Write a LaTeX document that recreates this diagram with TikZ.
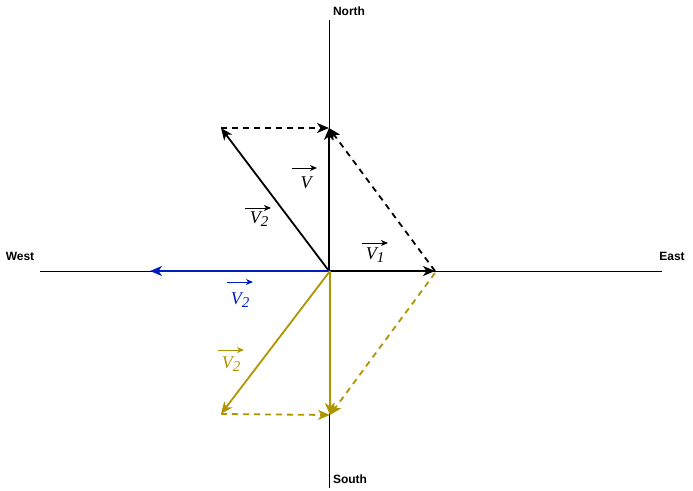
\documentclass[tikz,border=0pt]{standalone}
\usepackage{fontspec}
\setmainfont{Liberation Serif}
\setsansfont{Liberation Sans}
\usetikzlibrary{arrows.meta}
\definecolor{gold}{HTML}{B09500}
\definecolor{vblue}{HTML}{001DBC}
\tikzset{
  axis/.style={draw=black, line width=0.9pt},
  vec/.style={line width=1.8pt, -{Stealth[length=12pt,width=10pt,inset=3.5pt]}},
  dvec/.style={vec, dash pattern=on 6pt off 5pt},
  dir/.style={font=\sffamily\bfseries\fontsize{12}{14}\selectfont, inner sep=0pt},
  vl/.style={font=\itshape\fontsize{18}{20}\selectfont, inner sep=0pt},
  tiny/.style={line width=1pt, -{Stealth[length=7pt,width=6pt,inset=2pt]}}
}
\newcommand{\subtwo}[1]{\raisebox{-0.35ex}{\fontsize{15}{16}\selectfont #1}}
\begin{document}
\begin{tikzpicture}[x=1pt,y=-1pt]
\useasboundingbox (0,0) rectangle (693,490);
% axes
\coordinate (O) at (329,271);
\coordinate (Ntop) at (329,20);
\coordinate (Sbot) at (329,488);
\coordinate (Wend) at (40,271);
\coordinate (Eend) at (662,271);
\draw[axis] (Ntop) -- (Sbot);
\draw[axis] (Wend) -- (Eend);
\node[dir] (north) at (349,11) {North};
\node[dir] (south) at (350,479) {South};
\node[dir] (west) at (20,256) {West};
\node[dir] (east) at (672,256) {East};
% black vectors
\coordinate (Vtip) at (329,128);
\coordinate (V1tip) at (435,271);
\coordinate (V2tip) at (221,128);
\draw[dvec] (V2tip) -- (Vtip);
\draw[dvec] (V1tip) -- (Vtip);
\draw[vec] (O) -- (Vtip);
\draw[vec] (O) -- (V1tip);
\draw[vec] (O) -- (V2tip);
% blue vector
\coordinate (Btip) at (150,271);
\draw[vec, vblue] (O) -- (Btip);
% gold vectors
\coordinate (Og) at (330,271);
\coordinate (Gv2) at (221,414);
\coordinate (Gv) at (330,415);
\coordinate (Gv1) at (435,273);
\draw[dvec, gold] (Gv2) -- (Gv);
\draw[dvec, gold] (Gv1) -- (Gv);
\draw[vec, gold] (Og) -- (Gv2);
\draw[vec, gold] (Og) -- (Gv);
% labels
\node[vl] (lv) at (306,183) {V};
\draw[tiny] ([xshift=-14pt,yshift=15pt]lv.center) -- ++(25,0);
\node[vl] (lv2) at (259,219) {V\subtwo{2}};
\draw[tiny] ([xshift=-14pt,yshift=11pt]lv2.center) -- ++(26,0);
\node[vl] (lv1) at (375,255) {V\subtwo{1}};
\draw[tiny] ([xshift=-13pt,yshift=12pt]lv1.center) -- ++(26,0);
\node[vl, text=vblue] (lb) at (240,300) {V\subtwo{2}};
\draw[tiny, vblue] ([xshift=-13pt,yshift=18pt]lb.center) -- ++(26,0);
\node[vl, text=gold] (lg) at (231,364) {V\subtwo{2}};
\draw[tiny, gold] ([xshift=-13pt,yshift=14pt]lg.center) -- ++(26,0);
\end{tikzpicture}
\end{document}
